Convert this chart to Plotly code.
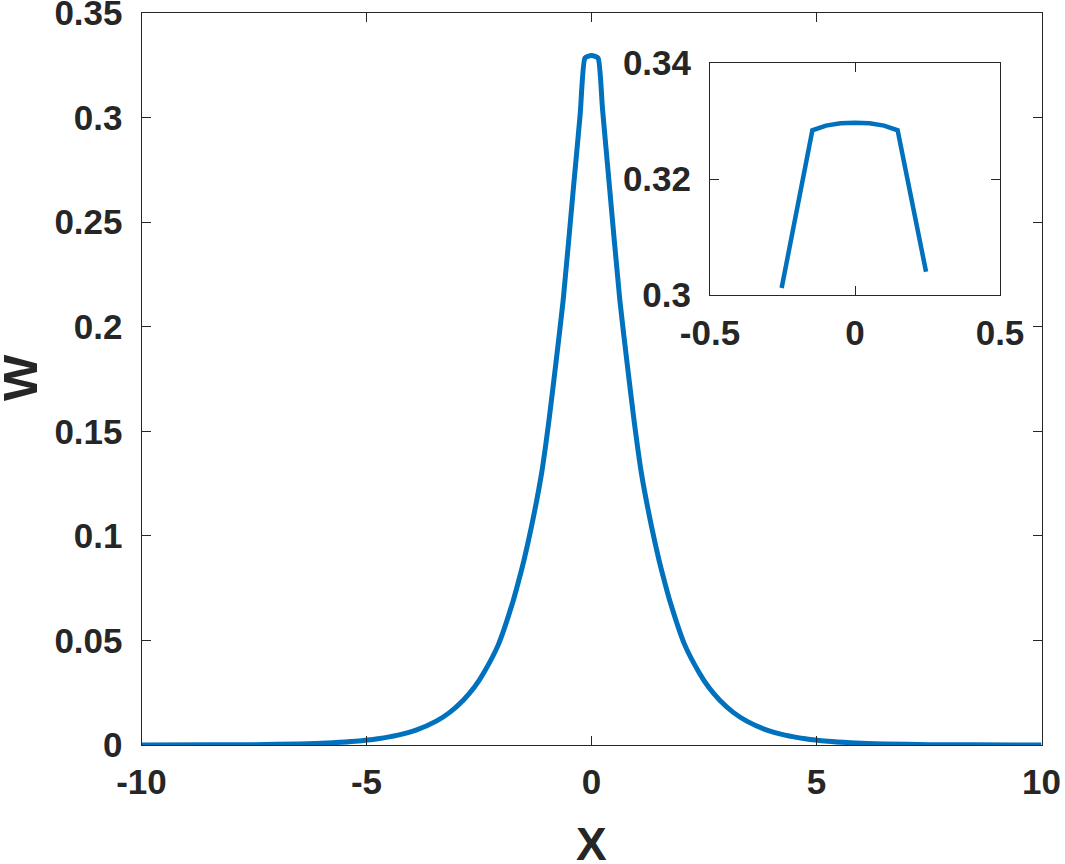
import plotly.graph_objects as go

# ---- data ----
x_main = [-10.0, -8.5, -7.5, -6.5, -5.75, -5.25, -4.75, -4.3, -3.9, -3.45, -3.15, -2.85, -2.6, -2.4,
          -2.07, -1.74, -1.615, -1.5, -1.335, -1.11, -0.945, -0.8, -0.63, -0.4, -0.253, -0.147,
          -0.075, 0.0, 0.075, 0.147, 0.245, 0.4, 0.63, 0.8, 0.945, 1.11, 1.335, 1.5, 1.615, 1.74,
          2.07, 2.4, 2.6, 2.85, 3.15, 3.45, 3.9, 4.3, 4.75, 5.25, 5.75, 6.5, 7.5, 8.5, 10.0]
w_main = [0.00001, 0.00006, 0.00017, 0.0005, 0.0011, 0.0018, 0.0030, 0.0047, 0.0071, 0.0114, 0.0156,
          0.0214, 0.0277, 0.0343, 0.048, 0.069, 0.0788, 0.0884, 0.1043, 0.1298, 0.1553, 0.181,
          0.2126, 0.2668, 0.3012, 0.3284, 0.3293, 0.3297, 0.3293, 0.3284, 0.3040, 0.2668, 0.2126,
          0.181, 0.1553, 0.1298, 0.1043, 0.0884, 0.0788, 0.069, 0.048, 0.0343, 0.0277, 0.0214,
          0.0156, 0.0114, 0.0071, 0.0047, 0.0030, 0.0018, 0.0011, 0.0005, 0.00017, 0.00006, 0.00001]

x_inset = [-0.253, -0.147, -0.1, -0.05, 0.0, 0.05, 0.1, 0.147, 0.245]
w_inset = [0.3012, 0.3284, 0.3292, 0.3296, 0.3297, 0.3296, 0.3292, 0.3284, 0.3040]

main_xticks = [-10, -5, 0, 5, 10]
main_xticktext = ["-10", "-5", "0", "5", "10"]
main_yticks = [0, 0.05, 0.1, 0.15, 0.2, 0.25, 0.3, 0.35]
main_yticktext = ["0", "0.05", "0.1", "0.15", "0.2", "0.25", "0.3", "0.35"]
inset_xticks = [-0.5, 0, 0.5]
inset_xticktext = ["-0.5", "0", "0.5"]
inset_yticks = [0.3, 0.32, 0.34]
inset_yticktext = ["0.3", "0.32", "0.34"]
x_label = "X"
y_label = "W"

LINE_COLOR = "#0072BD"
AX_COLOR = "#262626"
FONT = "Liberation Sans, Arial, sans-serif"

W, H = 1065, 864

fig = go.Figure()
fig.add_trace(go.Scatter(x=x_main, y=w_main, mode="lines",
                         line=dict(color=LINE_COLOR, width=5, shape="spline", smoothing=0.6),
                         xaxis="x", yaxis="y", showlegend=False))
fig.add_trace(go.Scatter(x=x_inset, y=w_inset, mode="lines",
                         line=dict(color=LINE_COLOR, width=4.5), xaxis="x2", yaxis="y2",
                         showlegend=False))

tickfont = dict(family=FONT, size=35, color=AX_COLOR, weight="bold")

def ax_common():
    return dict(showgrid=False, zeroline=False, showline=True, linecolor=AX_COLOR, linewidth=1,
                mirror="allticks", ticks="inside", ticklen=9, tickwidth=1, tickcolor=AX_COLOR,
                tickfont=tickfont, automargin=False, ticklabeloverflow="allow")

# main axes pixel box: x 141.5-1041.5, y 13-745
fig.update_layout(
    width=W, height=H,
    margin=dict(l=0, r=0, t=0, b=0),
    paper_bgcolor="white", plot_bgcolor="white",
    font=dict(family=FONT, color=AX_COLOR),
    xaxis=dict(domain=[141.5 / W, 1041.5 / W], range=[-10, 10],
               tickvals=main_xticks, ticktext=main_xticktext, ticklabelstandoff=6,
               **ax_common()),
    yaxis=dict(domain=[1 - 745 / H, 1 - 13 / H], range=[0, 0.35],
               tickvals=main_yticks, ticktext=main_yticktext, ticklabelstandoff=11,
               **ax_common()),
    xaxis2=dict(domain=[710 / W, 1000 / W], range=[-0.5, 0.5], anchor="y2",
                tickvals=inset_xticks, ticktext=inset_xticktext, ticklabelstandoff=7,
                **ax_common()),
    yaxis2=dict(domain=[1 - 295 / H, 1 - 63 / H], range=[0.3, 0.34], anchor="x2",
                tickvals=inset_yticks, ticktext=inset_yticktext, ticklabelstandoff=11,
                **ax_common()),
    annotations=[
        dict(text=f"<b>{x_label}</b>", xref="paper", yref="paper",
             x=(141.5 + 1041.5) / 2 / W, y=1 - 844 / H, xanchor="center", yanchor="middle",
             showarrow=False, font=dict(family=FONT, size=46, color=AX_COLOR)),
        dict(text=f"<b>{y_label}</b>", xref="paper", yref="paper", textangle=-90,
             x=20 / W, y=1 - 378 / H, xanchor="center", yanchor="middle",
             showarrow=False, font=dict(family=FONT, size=49, color=AX_COLOR)),
    ],
)

fig.write_html("out.html")
